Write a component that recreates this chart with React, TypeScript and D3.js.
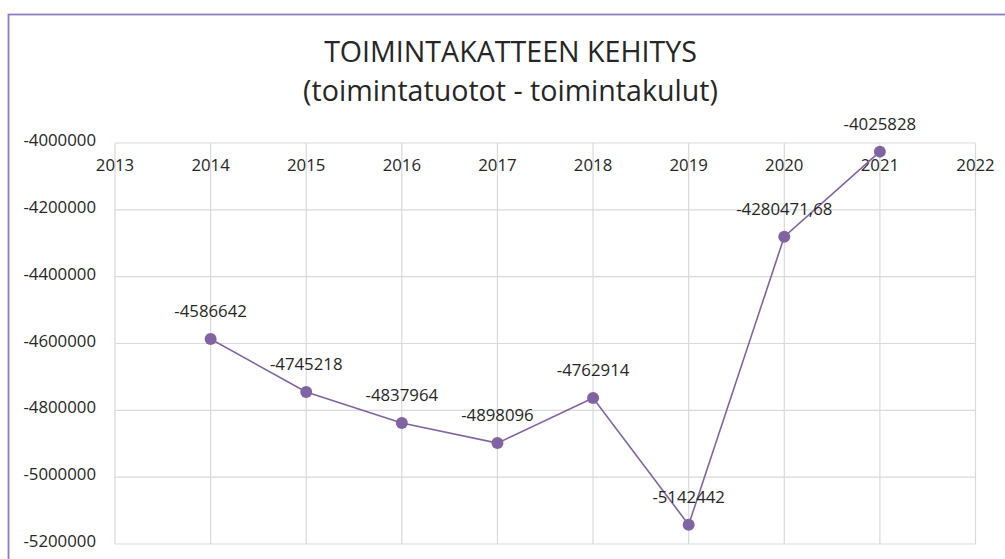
import React from "react";
import * as d3 from "d3";

const years = [2014, 2015, 2016, 2017, 2018, 2019, 2020, 2021];
const values = [-4586642, -4745218, -4837964, -4898096, -4762914, -5142442, -4280471.68, -4025828];
const valueLabels = ["-4586642", "-4745218", "-4837964", "-4898096", "-4762914", "-5142442", "-4280471,68", "-4025828"];
const xTicks = [2013, 2014, 2015, 2016, 2017, 2018, 2019, 2020, 2021, 2022];
const yTicks = [-4000000, -4200000, -4400000, -4600000, -4800000, -5000000, -5200000];
const titleLines = ["TOIMINTAKATTEEN KEHITYS", "(toimintatuotot - toimintakulut)"];

const W = 1005;
const H = 559;
const plot = { left: 115, right: 975.5, top: 143, bottom: 544 };
const purple = "#8064A2";
const font = "'Open Sans', sans-serif";

export default function App() {
  const x = d3.scaleLinear().domain([2013, 2022]).range([plot.left, plot.right]);
  const y = d3.scaleLinear().domain([-4000000, -5200000]).range([plot.top, plot.bottom]);
  const pts = years.map((yr, i) => [x(yr), y(values[i])] as [number, number]);
  const line = d3.line()(pts) || "";

  return (
    <svg
      width={W}
      height={H}
      style={{ position: "absolute", left: 0, top: 0, background: "#fff" }}
      fontFamily={font}
    >
      <rect x={0} y={0} width={W} height={H} fill="#fff" />
      <rect x={8.5} y={14.5} width={W + 20} height={H + 20} fill="#fff" stroke="#8e7cc3" strokeWidth={1.8} />
      {titleLines.map((t, i) => (
        <text key={t} x={510.5} y={61.5 + i * 39} textAnchor="middle" fontSize={28.6} fill="#262626">
          {t}
        </text>
      ))}
      {yTicks.map((v) => (
        <line key={"h" + v} x1={plot.left} x2={plot.right} y1={y(v)} y2={y(v)} stroke="#d9d9d9" strokeWidth={1.2} />
      ))}
      {xTicks.map((v) => (
        <line key={"v" + v} x1={x(v)} x2={x(v)} y1={plot.top} y2={plot.bottom} stroke="#d9d9d9" strokeWidth={1.2} />
      ))}
      {yTicks.map((v) => (
        <text key={"yl" + v} x={96} y={y(v) + 3} textAnchor="end" fontSize={16.8} fill="#262626">
          {String(v)}
        </text>
      ))}
      {xTicks.map((v) => (
        <text key={"xl" + v} x={x(v)} y={171} textAnchor="middle" fontSize={16.8} fill="#262626">
          {String(v)}
        </text>
      ))}
      <path d={line} fill="none" stroke={purple} strokeWidth={1.6} />
      {pts.map(([px, py], i) => (
        <circle key={"c" + i} cx={px} cy={py} r={6} fill={purple} />
      ))}
      {pts.map(([px, py], i) => (
        <text key={"l" + i} x={px} y={py - 22} textAnchor="middle" fontSize={16.8} fill="#262626">
          {valueLabels[i]}
        </text>
      ))}
    </svg>
  );
}
